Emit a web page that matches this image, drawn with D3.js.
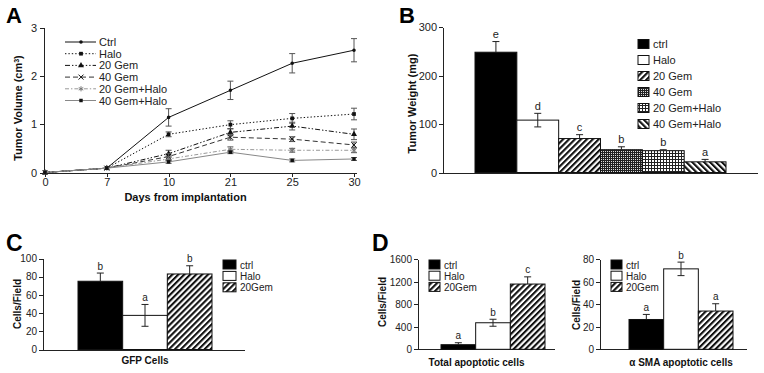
<!DOCTYPE html>
<html>
<head>
<meta charset="utf-8">
<script src="https://cdn.jsdelivr.net/npm/d3@7"></script>
<style>
body { margin:0; background:#fff; }
svg { display:block; font-family:"Liberation Sans", Arial, sans-serif; }
.axis text { font-size:11px; fill:#222; }
.axis path, .axis line { stroke:#222; stroke-width:1; shape-rendering:crispEdges; }
.small text { font-size:10px; }
.title { font-weight:bold; font-size:11px; fill:#111; }
.panel { font-weight:bold; font-size:22px; fill:#000; }
.leg { font-size:11px; fill:#222; }
.lbl { font-size:11px; fill:#222; }
</style>
</head>
<body>
<svg id="fig" width="764" height="373"></svg>
<script>
// ---- panel A : tumor volume ----
var days = ["0", "7", "10", "21", "25", "30"];
var groupsA = ["Ctrl", "Halo", "20 Gem", "40 Gem", "20 Gem+Halo", "40 Gem+Halo"];
var volCtrl    = [0, 0.09, 1.14, 1.70, 2.26, 2.53];
var volHalo    = [0, 0.09, 0.79, 0.99, 1.12, 1.21];
var vol20Gem   = [0, 0.09, 0.39, 0.83, 0.96, 0.79];
var vol40Gem   = [0, 0.09, 0.33, 0.73, 0.69, 0.57];
var vol20GemH  = [0, 0.09, 0.28, 0.48, 0.46, 0.46];
var vol40GemH  = [0, 0.09, 0.22, 0.42, 0.25, 0.28];
var errCtrl    = [0.01, 0.01, 0.18, 0.19, 0.20, 0.24];
var errHalo    = [0.01, 0.01, 0.05, 0.08, 0.10, 0.12];
var err20Gem   = [0.01, 0.01, 0.07, 0.07, 0.08, 0.11];
var err40Gem   = [0.01, 0.01, 0.06, 0.06, 0.05, 0.06];
var err20GemH  = [0.01, 0.01, 0.04, 0.05, 0.04, 0.05];
var err40GemH  = [0.01, 0.01, 0.03, 0.03, 0.03, 0.03];
var ticksA = [0, 1, 2, 3];

// ---- panel B : tumor weight ----
var groupsB = ["ctrl", "Halo", "20 Gem", "40 Gem", "20 Gem+Halo", "40 Gem+Halo"];
var weightB = [248, 108, 70, 47, 45, 22];
var weightErr = [22, 14, 8, 6, 2, 5];
var lettersB = ["e", "d", "c", "b", "b", "a"];
var ticksB = [0, 100, 200, 300];

// ---- panels C, D ----
var groupsCD = ["ctrl", "Halo", "20Gem"];
var gfpCells = [75, 37.5, 83];
var gfpErr = [9, 12, 9];
var lettersC = ["b", "a", "b"];
var ticksC = [0, 20, 40, 60, 80, 100];

var totalApop = [82, 472, 1160];
var totalErr = [35, 62, 128];
var lettersD1 = ["a", "b", "c"];
var ticksD1 = [0, 400, 800, 1200, 1600];

var smaApop = [26.5, 71.5, 34];
var smaErr = [4.5, 6, 6.5];
var lettersD2 = ["a", "b", "a"];
var ticksD2 = [0, 20, 40, 60, 80];

var svg = d3.select("#fig");
var defs = svg.append("defs");

// 사선 패턴
function stripes(id, angle, gap, w){
	var p = defs.append("pattern").attr("id", id)
		.attr("patternUnits", "userSpaceOnUse")
		.attr("width", gap).attr("height", gap)
		.attr("patternTransform", "rotate(" + angle + ")");
	p.append("rect").attr("width", gap).attr("height", gap).attr("fill", "#fff");
	p.append("rect").attr("width", w).attr("height", gap).attr("fill", "#111");
}
stripes("hatch", 45, 4.2, 2.1);
stripes("hatchBack", -45, 4.2, 2.1);

// 촘촘한 체크 패턴 (40 Gem)
var pc = defs.append("pattern").attr("id", "checker")
	.attr("patternUnits", "userSpaceOnUse").attr("width", 2).attr("height", 2);
pc.append("rect").attr("width", 2).attr("height", 2).attr("fill", "#222");
pc.append("rect").attr("x", 1).attr("y", 1).attr("width", 1).attr("height", 1).attr("fill", "#ddd");

// 격자 패턴 (20 Gem+Halo)
var pg = defs.append("pattern").attr("id", "grid")
	.attr("patternUnits", "userSpaceOnUse").attr("width", 3).attr("height", 3);
pg.append("rect").attr("width", 3).attr("height", 3).attr("fill", "#fff");
pg.append("rect").attr("width", 3).attr("height", 1).attr("fill", "#222");
pg.append("rect").attr("width", 1).attr("height", 3).attr("fill", "#222");

var fillsB = ["#000", "#fff", "url(#hatch)", "url(#checker)", "url(#grid)", "url(#hatchBack)"];
var fillsCD = ["#000", "#fff", "url(#hatch)"];

function panelLetter(t, x, y, size){
	svg.append("text").attr("class", "panel").attr("x", x).attr("y", y)
		.style("font-size", size + "px").text(t);
}

function yTitle(g, t, x, y){
	return g.append("text").attr("class", "title")
		.attr("text-anchor", "middle")
		.attr("transform", "translate(" + x + "," + y + ") rotate(-90)")
		.text(t);
}

// ================= A =================
var gA = svg.append("g");
var xA = d3.scalePoint().domain(days).range([45, 354]);
var yA = d3.scaleLinear().domain([0, 3]).range([172.5, 27.5]);

gA.append("g").attr("class", "axis")
	.attr("transform", "translate(44,0)")
	.call(d3.axisLeft(yA).tickValues(ticksA).tickSize(4).tickSizeOuter(0)
		.tickPadding(3).tickFormat(d3.format("d")));

var axA = gA.append("g").attr("class", "axis")
	.attr("transform", "translate(0," + yA(0) + ")")
	.call(d3.axisBottom(xA).tickSize(4).tickSizeOuter(0).tickPadding(2));
axA.select(".domain").attr("d", "M44,0.5H357");

var seriesA = [volCtrl, volHalo, vol20Gem, vol40Gem, vol20GemH, vol40GemH];
var errsA = [errCtrl, errHalo, err20Gem, err40Gem, err20GemH, err40GemH];
var symTimes = d3.symbolTimes || d3.symbolCross;
var symAst = d3.symbolAsterisk || d3.symbolCross;
var stylesA = [
	{ stroke:"#111", dash:null, sym:d3.symbolCircle, size:10, fill:"#111", mstroke:"none" },
	{ stroke:"#111", dash:"1.4,2", sym:d3.symbolSquare, size:14, fill:"#111", mstroke:"none" },
	{ stroke:"#111", dash:"5,2,1.4,2,1.4,2", sym:d3.symbolTriangle, size:16, fill:"#111", mstroke:"none" },
	{ stroke:"#333", dash:"5,3", sym:symTimes, size:18, fill:"none", mstroke:"#111" },
	{ stroke:"#999", dash:"4,2,1.4,2", sym:symAst, size:18, fill:"none", mstroke:"#777" },
	{ stroke:"#888", dash:null, sym:d3.symbolSquare, size:12, fill:"#111", mstroke:"none" }
];

var lineA = d3.line()
	.x(function(d, i){ return xA(days[i]); })
	.y(function(d){ return yA(d); });

seriesA.forEach(function(vals, k){
	var st = stylesA[k];
	var g = gA.append("g");
	// 오차 막대
	vals.forEach(function(v, i){
		var e = errsA[k][i];
		if (e < 0.02) return;
		var cx = xA(days[i]);
		g.append("path")
			.attr("d", "M" + cx + "," + yA(v + e) + "V" + yA(v - e)
				+ "M" + (cx - 3) + "," + yA(v + e) + "h6"
				+ "M" + (cx - 3) + "," + yA(v - e) + "h6")
			.attr("stroke", "#555").attr("stroke-width", 1).attr("fill", "none");
	});
	g.append("path").attr("d", lineA(vals))
		.attr("fill", "none").attr("stroke", st.stroke).attr("stroke-width", 1)
		.attr("stroke-dasharray", st.dash);
	g.selectAll(".m").data(vals).enter().append("path")
		.attr("transform", function(d, i){ return "translate(" + xA(days[i]) + "," + yA(d) + ")"; })
		.attr("d", d3.symbol().type(st.sym).size(st.size))
		.attr("fill", st.fill).attr("stroke", st.mstroke).attr("stroke-width", 1);
});

// 범례 A
var legA = gA.append("g");
groupsA.forEach(function(name, k){
	var st = stylesA[k];
	var yy = 42 + k * 11.7;
	legA.append("line").attr("x1", 65).attr("x2", 96).attr("y1", yy).attr("y2", yy)
		.attr("stroke", st.stroke).attr("stroke-dasharray", st.dash);
	legA.append("path").attr("transform", "translate(81," + yy + ")")
		.attr("d", d3.symbol().type(st.sym).size(st.size))
		.attr("fill", st.fill).attr("stroke", st.mstroke);
	legA.append("text").attr("class", "leg").attr("x", 99).attr("y", yy + 4).text(name);
});

var tA = yTitle(gA, "", 21.5, 108);
tA.append("tspan").text("Tumor Volume (cm");
tA.append("tspan").attr("baseline-shift", "super").style("font-size", "7px").text("3");
tA.append("tspan").text(")");
gA.append("text").attr("class", "title").attr("text-anchor", "middle")
	.attr("x", 185.5).attr("y", 201).text("Days from implantation");
panelLetter("A", 6, 23, 22);

// ================= bar panels =================
function barPanel(c){
	var g = svg.append("g").attr("class", c.small ? "small" : "");
	var y = d3.scaleLinear().domain([0, c.yMax]).range(c.yRange);
	var x = d3.scaleBand().domain(c.names).range(c.barRange).padding(0);

	g.append("g").attr("class", "axis")
		.attr("transform", "translate(" + c.axisX + ",0)")
		.call(d3.axisLeft(y).tickValues(c.ticks).tickSize(4).tickSizeOuter(0)
			.tickPadding(2).tickFormat(d3.format("d")));
	g.append("line").attr("x1", c.axisX).attr("x2", c.axisEnd)
		.attr("y1", y(0) + 0.5).attr("y2", y(0) + 0.5)
		.attr("stroke", "#222").attr("shape-rendering", "crispEdges");

	g.selectAll(".bar").data(c.values).enter().append("rect")
		.attr("x", function(d, i){ return x(c.names[i]); })
		.attr("y", function(d){ return y(d); })
		.attr("width", x.bandwidth())
		.attr("height", function(d){ return y(0) - y(d); })
		.attr("fill", function(d, i){ return c.fills[i]; })
		.attr("stroke", "#111").attr("stroke-width", 1);

	c.values.forEach(function(v, i){
		var cx = x(c.names[i]) + x.bandwidth() / 2;
		var e = c.errs[i];
		var lo = (c.fills[i] === "#fff") ? v - e : v;
		g.append("path")
			.attr("d", "M" + cx + "," + y(v + e) + "V" + y(lo)
				+ "M" + (cx - 3.5) + "," + y(v + e) + "h7"
				+ (lo < v ? "M" + (cx - 3.5) + "," + y(lo) + "h7" : ""))
			.attr("stroke", "#222").attr("fill", "none");
		g.append("text").attr("class", "lbl").attr("text-anchor", "middle")
			.attr("x", cx).attr("y", y(v + e) - 3.5).text(c.letters[i]);
	});

	c.names.forEach(function(name, i){
		var yy = c.legY + i * c.legDy;
		g.append("rect").attr("x", c.legX).attr("y", yy - 4.5)
			.attr("width", c.swW).attr("height", 9)
			.attr("fill", c.fills[i]).attr("stroke", "#111");
		g.append("text").attr("class", "leg").attr("x", c.legX + c.swW + 4)
			.attr("y", yy + 4).text(name);
	});

	yTitle(g, c.yTitle[0], c.yTitle[1], c.yTitle[2]);
	if (c.xTitle) {
		g.append("text").attr("class", "title").attr("text-anchor", "middle")
			.attr("x", c.xTitle[1]).attr("y", c.xTitle[2]).text(c.xTitle[0]);
	}
	return g;
}

barPanel({
	names:groupsB, values:weightB, errs:weightErr, letters:lettersB, fills:fillsB,
	yMax:300, yRange:[172.5, 27], ticks:ticksB, axisX:443, axisEnd:758,
	barRange:[475, 726], legX:638, legY:44, legDy:16, swW:11,
	yTitle:["Tumor Weight (mg)", 416, 103.5]
});
panelLetter("B", 399, 23, 22);

barPanel({
	names:groupsCD, values:gfpCells, errs:gfpErr, letters:lettersC, fills:fillsCD, small:true,
	yMax:100, yRange:[349.5, 258.5], ticks:ticksC, axisX:43, axisEnd:245,
	barRange:[78, 212], legX:223, legY:264.5, legDy:11.4, swW:13,
	yTitle:["Cells/Field", 21, 304], xTitle:["GFP Cells", 145, 364]
});
panelLetter("C", 6, 251, 23);

barPanel({
	names:groupsCD, values:totalApop, errs:totalErr, letters:lettersD1, fills:fillsCD, small:true,
	yMax:1600, yRange:[349.3, 259.3], ticks:ticksD1, axisX:418, axisEnd:555,
	barRange:[441, 545], legX:429, legY:264.5, legDy:11.2, swW:11,
	yTitle:["Cells/Field", 386, 302], xTitle:["Total apoptotic cells", 476.5, 366]
});
panelLetter("D", 372, 251, 23);

barPanel({
	names:groupsCD, values:smaApop, errs:smaErr, letters:lettersD2, fills:fillsCD, small:true,
	yMax:80, yRange:[349.3, 259.3], ticks:ticksD2, axisX:600, axisEnd:747,
	barRange:[629, 733], legX:611, legY:264.5, legDy:11.2, swW:11,
	yTitle:["Cells/Field", 580, 305], xTitle:["\u03b1 SMA apoptotic cells", 681, 366]
});
</script>
</body>
</html>
